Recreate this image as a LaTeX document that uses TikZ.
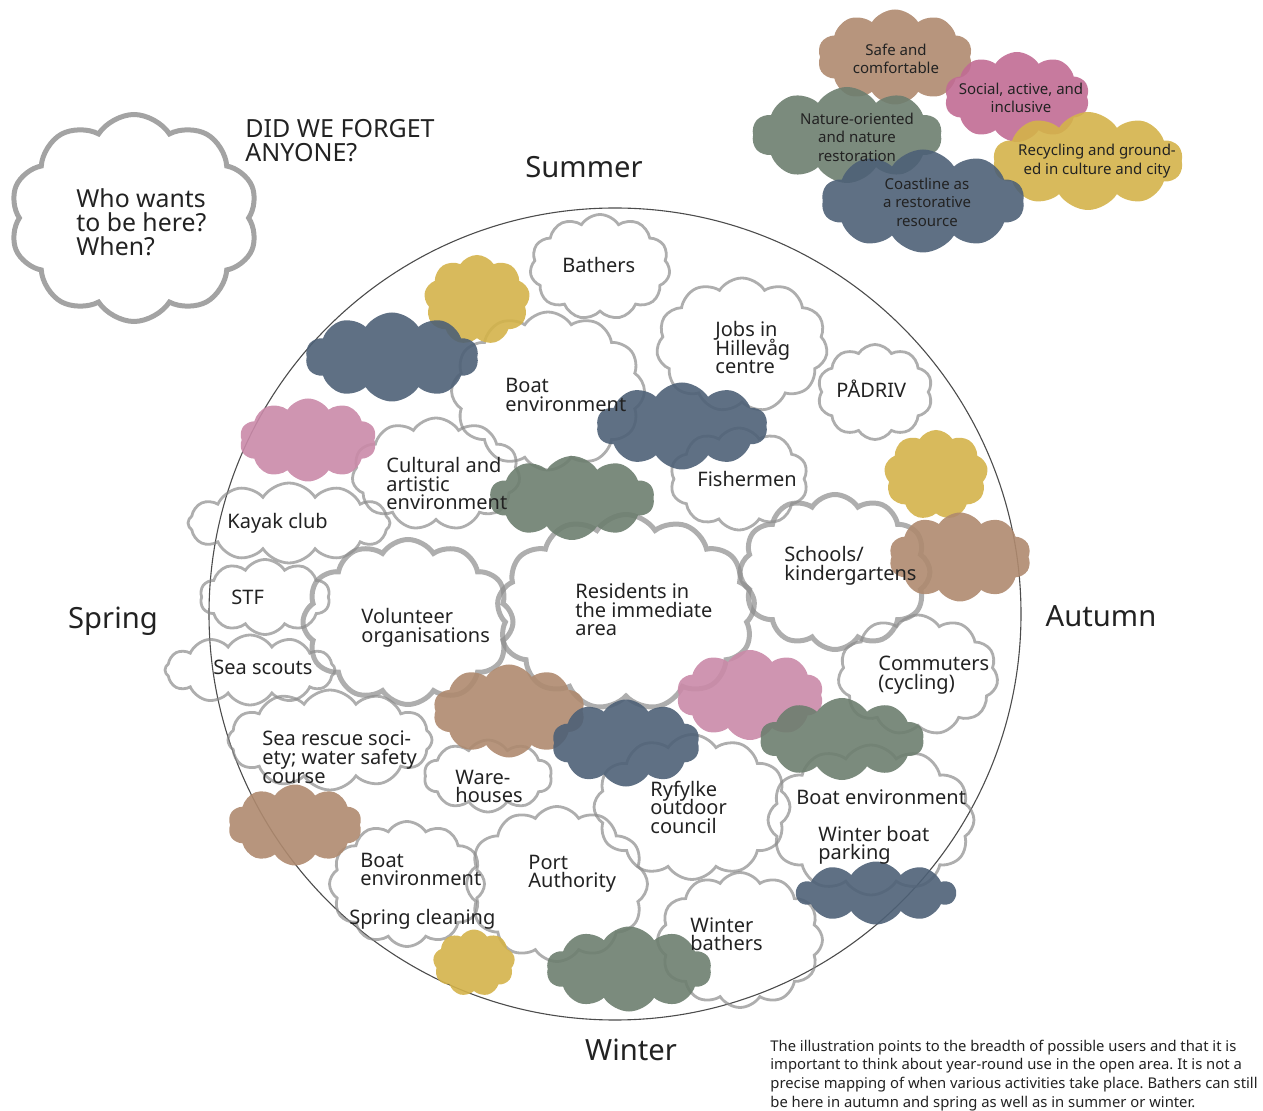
\documentclass[tikz,border=0pt]{standalone}
\usepackage{fontspec}
\setmainfont{Noto Sans}
\usetikzlibrary{shapes.symbols}
\frenchspacing

\definecolor{outl}{HTML}{8C8C8C}
\definecolor{ink}{HTML}{222222}
\definecolor{cbrown}{RGB}{175,138,111}
\definecolor{cpink}{RGB}{202,138,169}
\definecolor{cpinkd}{RGB}{193,108,148}
\definecolor{cgreen}{RGB}{109,126,111}
\definecolor{cblue}{RGB}{78,97,119}
\definecolor{cyellow}{RGB}{212,179,74}

% text blocks with fixed line pitch; \ml keeps the first line's baseline
\newcommand\ml[1]{\vtop{\lineskiplimit=-100pt\relax\let\\\cr\halign{##\hfil\cr#1\crcr}}}
\newcommand\mc[1]{\vbox{\lineskiplimit=-100pt\relax\let\\\cr\halign{\hfil##\hfil\cr#1\crcr}}}

% outlined user cloud: [opts]{name}{x,y}{w}{h}
\newcommand\wc[5][]{\node[wcloud,#1,minimum width=#4*0.5pt,minimum height=#5*0.5pt] (#2) at (#3) {};}
% filled quality cloud: [opts]{name}{colour}{x,y}{w}{h}
\newcommand\cc[6][]{\node[ccloud,fill=#3,#1,minimum width=#5*0.5pt,minimum height=#6*0.5pt] (#2) at (#4) {};}

\tikzset{
  wcloud/.style={cloud, cloud puffs=11, cloud puff arc=115, cloud ignores aspect,
    draw=outl, draw opacity=0.7, line width=1.4pt, inner sep=0pt},
  heavy/.style={line width=2.5pt},
  ccloud/.style={cloud, cloud puffs=10, cloud puff arc=115, cloud ignores aspect,
    fill opacity=0.9, draw=none, inner sep=0pt},
  lbl/.style={anchor=base west, inner sep=0pt, text=ink, font=\fontsize{10}{9.25}\selectfont},
  leg/.style={anchor=center, inner sep=0pt, text=ink, font=\fontsize{7.5}{9.25}\selectfont},
  season/.style={anchor=center, inner sep=0pt, text=ink, font=\fontsize{14.6}{16}\selectfont},
  ring/.style={circle, draw=black!70, line width=0.55pt, inner sep=0pt}
}

\begin{document}
\begin{tikzpicture}[x=0.5pt,y=-0.5pt]
\path[use as bounding box] (0,0) rectangle (1263,1111);

% year circle
\node[ring, minimum size=812*0.5pt] (year) at (615,614) {};

% question cloud
\wc[heavy, cloud puffs=10, draw opacity=0.8]{who}{134,218}{248}{207}

% user clouds
\wc{bathers}{600,267}{140}{105}
\wc[cloud puffs=12]{boatT}{548,391}{193}{158}
\wc{jobs}{742,345}{171}{134}
\wc[cloud puffs=10]{padriv}{875,392}{115}{95}
\wc{cultural}{436,474}{168}{112}
\wc[cloud puffs=10]{fisher}{739,479}{138}{102}
\wc[cloud puffs=12]{kayak}{289,523}{202}{80}
\wc[heavy, cloud puffs=12]{schools}{835,572}{190}{155}
\wc[heavy, cloud puffs=13]{residents}{626,612}{258}{195}
\wc[cloud puffs=10]{stf}{265,597}{130}{75}
\wc[heavy, cloud puffs=12]{volunteer}{408,622}{210}{165}
\wc[cloud puffs=12]{seascouts}{250,670}{170}{70}
\wc{commuters}{918,675}{160}{120}
\wc[cloud puffs=12]{searescue}{330,740}{204}{100}
\wc[cloud puffs=10]{warehouses}{488,776}{128}{72}
\wc[cloud puffs=12]{ryfylke}{692,807}{196}{145}
\wc[cloud puffs=12]{boatR}{871,820}{206}{150}
\wc[cloud puffs=12]{boatBL}{407,884}{155}{125}
\wc[cloud puffs=12]{port}{557,884}{181}{155}
\wc[cloud puffs=12]{wbathers}{740,940}{165}{135}

% quality clouds inside the circle
\cc[cloud puffs=9]{q1}{cyellow}{477,300}{106}{90}
\cc{q2}{cblue}{392,357}{173}{89}
\cc{q3}{cpink}{308,440}{137}{83}
\cc{q4}{cblue}{682,426}{171}{87}
\cc{q5}{cgreen}{572,498}{165}{84}
\cc[cloud puffs=9]{q6}{cyellow}{936,475}{104}{90}
\cc{q7}{cbrown}{960,557}{142}{89}
\cc{q8}{cbrown}{509,711}{152}{93}
\cc{q9}{cpink}{750,695}{147}{90}
\cc{q10}{cblue}{626,743}{148}{87}
\cc{q11}{cgreen}{842,739}{164}{82}
\cc{q12}{cbrown}{295,825}{134}{81}
\cc{q13}{cblue}{876,893}{159}{63}
\cc{q14}{cgreen}{629,969}{165}{85}
\cc[cloud puffs=9]{q15}{cyellow}{474,963}{82}{67}

% legend clouds
\cc{lgBrown}{cbrown}{895,57}{155}{95}
\cc{lgPink}{cpinkd}{1017,97}{145}{90}
\cc{lgGreen}{cgreen}{847,135}{190}{96}
\cc{lgYellow}{cyellow}{1088,161}{190}{98}
\cc{lgBlue}{cblue}{923,201}{203}{103}

\node[leg] (tBrown) at (896,59) {\mc{Safe and\\comfortable}};
\node[leg] (tPink) at (1021,98) {\mc{Social, active, and\\inclusive}};
\node[leg] (tGreen) at (857,137) {\mc{Nature-oriented\\and nature\\restoration}};
\node[leg] (tYellow) at (1097,161) {\mc{Recycling and ground-\\ed in culture and city}};
\node[leg] (tBlue) at (927,202) {\mc{Coastline as\\a restorative\\resource}};

% headings
\node[lbl, font=\fontsize{12.4}{12}\selectfont] (tWho) at (76,208) {\ml{Who wants\\to be here?\\When?}};
\node[lbl, font=\fontsize{12.5}{12}\selectfont] (tForget) at (245,138) {\ml{DID WE FORGET\\ANYONE?}};

% seasons
\node[season] (summer) at (584,167) {Summer};
\node[season] (spring) at (113,621) {Spring};
\node[season] (autumn) at (1101,616) {Autumn};
\node[season] (winter) at (631,1050) {Winter};

% user labels
\node[lbl] (tBathers) at (562,273) {Bathers};
\node[lbl] (tBoatT) at (505,393) {\ml{Boat\\environment}};
\node[lbl] (tJobs) at (715,337) {\ml{Jobs in\\Hillevåg\\centre}};
\node[lbl] (tPadriv) at (836,398) {PÅDRIV};
\node[lbl] (tCultural) at (386,473) {\ml{Cultural and\\artistic\\environment}};
\node[lbl] (tFisher) at (697,487) {Fishermen};
\node[lbl] (tKayak) at (227,529) {Kayak club};
\node[lbl] (tSchools) at (784,562) {\ml{Schools/\\kindergartens}};
\node[lbl] (tResidents) at (575,599) {\ml{Residents in\\the immediate\\area}};
\node[lbl] (tStf) at (231,605) {STF};
\node[lbl] (tVolunteer) at (361,624) {\ml{Volunteer\\organisations}};
\node[lbl] (tScouts) at (213,675) {Sea scouts};
\node[lbl] (tCommuters) at (878,671) {\ml{Commuters\\(cycling)}};
\node[lbl] (tRescue) at (262,746) {\ml{Sea rescue soci-\\ety; water safety\\course}};
\node[lbl] (tWare) at (455,784) {\ml{Ware-\\houses}};
\node[lbl] (tRyfylke) at (650,796) {\ml{Ryfylke\\outdoor\\council}};
\node[lbl] (tBoatR) at (796,804) {Boat environment};
\node[lbl] (tParking) at (818,841) {\ml{Winter boat\\parking}};
\node[lbl] (tPort) at (528,869) {\ml{Port\\Authority}};
\node[lbl] (tBoatBL) at (360,867) {\ml{Boat\\environment}};
\node[lbl] (tCleaning) at (349,924) {Spring cleaning};
\node[lbl] (tWBathers) at (690,932) {\ml{Winter\\bathers}};

% note
\node[lbl, font=\fontsize{7.4}{9.35}\selectfont] (note) at (770,1051) {\ml{The illustration points to the breadth of possible users and that it is\\important to think about year-round use in the open area. It is not a\\precise mapping of when various activities take place. Bathers can still\\be here in autumn and spring as well as in summer or winter.}};
\end{tikzpicture}
\end{document}
